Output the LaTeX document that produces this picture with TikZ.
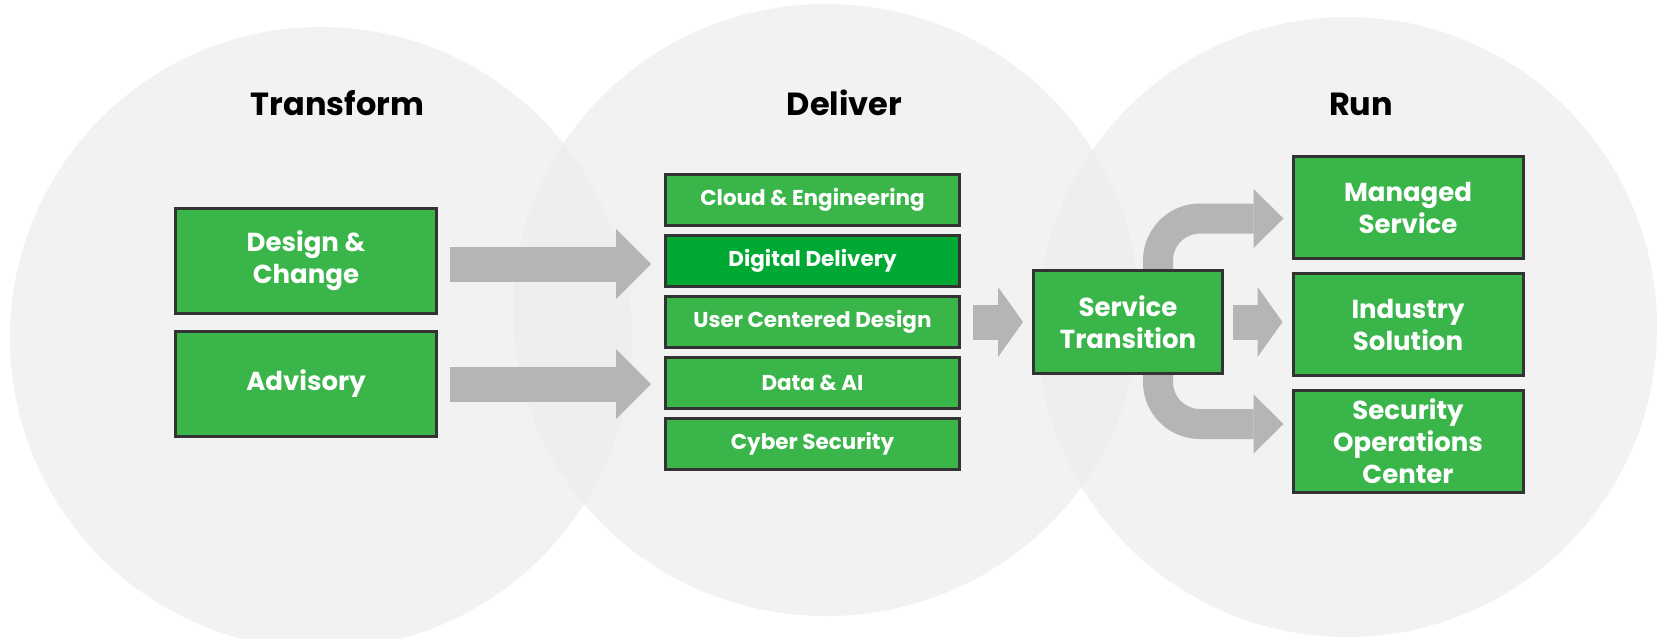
\documentclass[tikz,border=0pt]{standalone}
\usepackage{fontspec}
\setmainfont{Poppins}
\usetikzlibrary{arrows.meta,positioning}

\definecolor{boxgreen}{HTML}{3AB54A}
\definecolor{deepgreen}{HTML}{00A933}
\definecolor{boxline}{HTML}{333333}
\definecolor{arrowgray}{HTML}{B5B5B5}
\definecolor{bubble}{HTML}{ECECEC}

\pgfdeclarelayer{back}
\pgfdeclarelayer{mid}
\pgfsetlayers{back,mid,main}

\begin{document}
\begin{tikzpicture}[x=1pt,y=-1pt,node distance=7pt,
  green box/.style={draw=boxline,fill=boxgreen,line width=3pt,text=white,inner sep=0pt,
    align=center,font=\bfseries\fontsize{26}{32}\selectfont},
  small box/.style={green box,minimum width=294pt,minimum height=51pt,
    font=\bfseries\fontsize{21.5}{24}\selectfont},
  title node/.style={anchor=base,font=\bfseries\fontsize{32}{36}\selectfont},
  wide arrow/.style={draw=arrowgray,line width=35pt,
    -{Triangle[length=35pt 0 0,width=70pt 0 0,line width=0pt 0 0]}},
  short arrow/.style={draw=arrowgray,line width=35pt,
    -{Triangle[length=25pt 0 0,width=70pt 0 0,line width=0pt 0 0]}},
  bend arrow/.style={draw=arrowgray,line width=30pt,rounded corners=42pt,
    -{Triangle[length=30pt 0 0,width=59pt 0 0,line width=0pt 0 0]}}]

  \useasboundingbox (0,0) rectangle (1660,638);

  \begin{pgfonlayer}{back}
    \fill[bubble,fill opacity=.7] (321,338) circle [radius=311pt];
    \fill[bubble,fill opacity=.7] (826,310) ellipse [x radius=313pt,y radius=306pt];
    \fill[bubble,fill opacity=.7] (1347,327) circle [radius=310pt];
  \end{pgfonlayer}

  \node[title node] (transform) at (337.5,115) {Transform};
  \node[title node] (deliver) at (844.5,115) {Deliver};
  \node[title node] (run) at (1361,115) {Run};

  \node[green box,minimum width=261pt,minimum height=105pt] (design) at (306,261) {Design \&\\Change};
  \node[green box,minimum width=261pt,minimum height=105pt] (advisory) [below=15pt of design] {Advisory};

  \node[small box] (cloud) at (812.5,200) {Cloud \& Engineering};
  \node[small box,fill=deepgreen] (digital) [below=of cloud] {Digital Delivery};
  \node[small box] (ucd) [below=of digital] {User Centered Design};
  \node[small box] (data) [below=of ucd] {Data \& AI};
  \node[small box] (cyber) [below=of data] {Cyber Security};

  \node[green box,minimum width=189pt,minimum height=103pt] (svc) at (1128,322) {Service\\Transition};

  \node[green box,minimum width=230pt,minimum height=102pt] (managed) at (1408,207.5) {Managed\\Service};
  \node[green box,minimum width=230pt,minimum height=102pt] (industry) [below=12pt of managed] {Industry\\Solution};
  \node[green box,minimum width=230pt,minimum height=102pt] (security) [below=12pt of industry] {Security\\Operations\\Center};

  \coordinate (up) at ([yshift=103.5pt]svc.center);
  \coordinate (down) at ([yshift=-102pt]svc.center);

  \begin{pgfonlayer}{mid}
    \draw[wide arrow] ([xshift=12pt,yshift=-3pt]design.east) -- ([xshift=-13pt,yshift=-3pt]design.east -| cloud.west);
    \draw[wide arrow] ([xshift=12pt]advisory.east) -- ([xshift=-13pt]advisory.east -| data.west);
    \draw[short arrow] ([xshift=12pt]ucd.east) -- ([xshift=-9pt]svc.west);
    \draw[short arrow] ([xshift=9pt]svc.east) -- ([xshift=-9pt]svc.east -| industry.west);
    \draw[bend arrow] ([xshift=30pt]svc.center) |- ([xshift=-8pt]up -| managed.west);
    \draw[bend arrow] ([xshift=30pt]svc.center) |- ([xshift=-8pt]down -| security.west);
  \end{pgfonlayer}
\end{tikzpicture}
\end{document}
